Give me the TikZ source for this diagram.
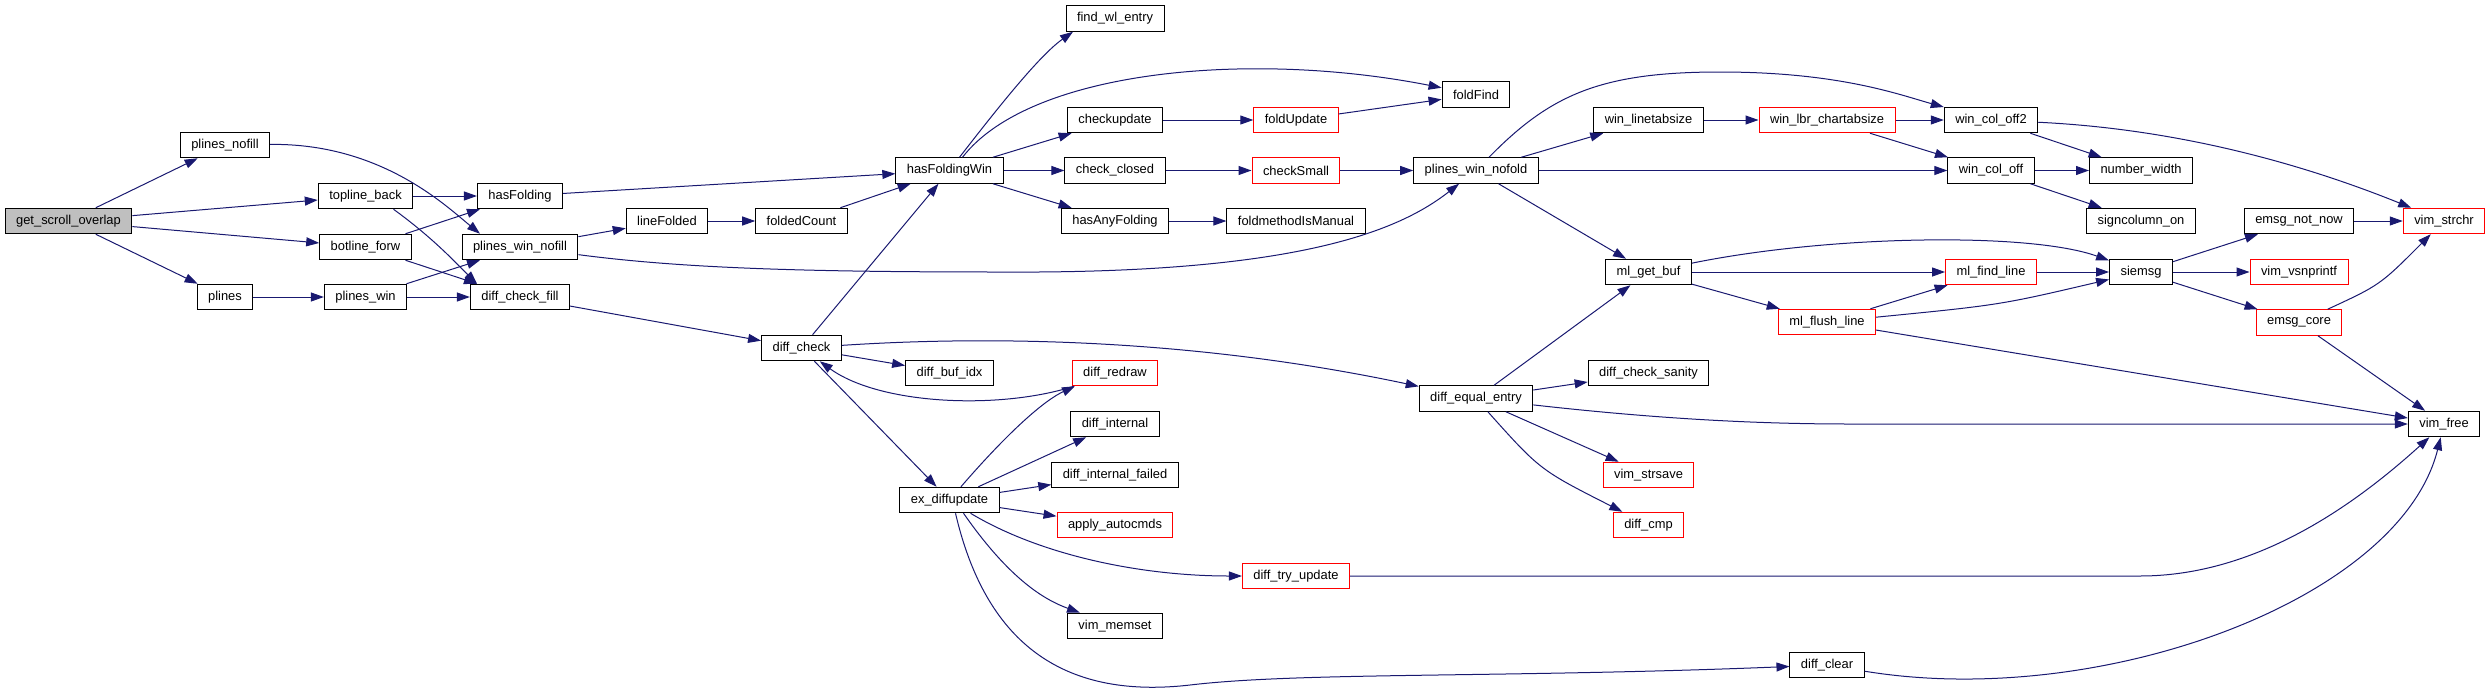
\documentclass[tikz,border=0pt]{standalone}
\usepackage{fontspec}
\setmainfont{Liberation Sans}
\usepackage{xcolor}
\usepackage{tikz}
\usetikzlibrary{arrows.meta}
\definecolor{callblue}{HTML}{191970}
\definecolor{truncred}{HTML}{FF0000}
\definecolor{rootgrey}{HTML}{BFBFBF}

\begin{document}
\begin{tikzpicture}[x=1pt,y=-1pt,
    fn/.style={draw=black, line width=1pt, fill=white, rectangle, minimum height=25.5pt,
      inner xsep=11pt, inner ysep=0pt, font=\fontsize{12.9pt}{15pt}\selectfont},
    trunc/.style={fn, draw=truncred},
    root/.style={fn, fill=rootgrey},
    >={Triangle[length=13pt,width=9pt]},
    call/.style={->, draw=callblue, line width=1pt}]
  \useasboundingbox (0,0) rectangle (2491,691);
  % ---- Nodes, column by column ----
  \node[root] (gso) at (68.5,221) {get\_scroll\_overlap};
  \node[fn] (pnofill) at (225,145) {plines\_nofill};
  \node[fn] (plines) at (225,297) {plines};
  \node[fn] (tback) at (365.5,196) {topline\_back};
  \node[fn] (bforw) at (365.5,247) {botline\_forw};
  \node[fn] (pwin) at (365.5,297) {plines\_win};
  \node[fn] (hfold) at (520,196) {hasFolding};
  \node[fn] (pwnofill) at (520,247) {plines\_win\_nofill};
  \node[fn] (dcfill) at (520,297) {diff\_check\_fill};
  \node[fn] (lfold) at (667,221) {lineFolded};
  \node[fn] (fcount) at (801.5,221) {foldedCount};
  \node[fn] (dcheck) at (801.5,348) {diff\_check};
  \node[fn] (hfwin) at (949.5,170.5) {hasFoldingWin};
  \node[fn] (dbufidx) at (949.5,373) {diff\_buf\_idx};
  \node[fn] (exdiff) at (949.5,500) {ex\_diffupdate};
  \node[fn] (fwl) at (1115,18.5) {find\_wl\_entry};
  \node[fn] (cupd) at (1115,120) {checkupdate};
  \node[fn] (cclosed) at (1115,170.5) {check\_closed};
  \node[fn] (hany) at (1115,221) {hasAnyFolding};
  \node[trunc] (dredraw) at (1115,373) {diff\_redraw};
  \node[fn] (dint) at (1115,424) {diff\_internal};
  \node[fn] (dintf) at (1115,475) {diff\_internal\_failed};
  \node[trunc] (autocmd) at (1115,525) {apply\_autocmds};
  \node[fn] (vmemset) at (1115,626) {vim\_memset};
  \node[trunc] (fupd) at (1296,120) {foldUpdate};
  \node[trunc] (csmall) at (1296,170.5) {checkSmall};
  \node[fn] (fmanual) at (1296,221) {foldmethodIsManual};
  \node[trunc] (dtry) at (1296,576) {diff\_try\_update};
  \node[fn] (ffind) at (1476,94.5) {foldFind};
  \node[fn] (pwnofold) at (1476,170.5) {plines\_win\_nofold};
  \node[fn] (deqe) at (1476,398.5) {diff\_equal\_entry};
  \node[fn] (wlts) at (1648.5,120) {win\_linetabsize};
  \node[fn] (mlgb) at (1648.5,272) {ml\_get\_buf};
  \node[fn] (dsanity) at (1648.5,373) {diff\_check\_sanity};
  \node[trunc] (vstrsave) at (1648.5,475) {vim\_strsave};
  \node[trunc] (dcmp) at (1648.5,525) {diff\_cmp};
  \node[trunc] (wlbr) at (1827,120) {win\_lbr\_chartabsize};
  \node[trunc] (mlflush) at (1827,322) {ml\_flush\_line};
  \node[fn] (dclear) at (1827,665) {diff\_clear};
  \node[fn] (wco2) at (1991,120) {win\_col\_off2};
  \node[fn] (wco) at (1991,170.5) {win\_col\_off};
  \node[trunc] (mlfind) at (1991,272) {ml\_find\_line};
  \node[fn] (nwidth) at (2141,170.5) {number\_width};
  \node[fn] (scol) at (2141,221) {signcolumn\_on};
  \node[fn] (siemsg) at (2141,272) {siemsg};
  \node[fn] (enotnow) at (2299,221) {emsg\_not\_now};
  \node[trunc] (vsnp) at (2299,272) {vim\_vsnprintf};
  \node[trunc] (ecore) at (2299,322.5) {emsg\_core};
  \node[trunc] (vstrchr) at (2444,221) {vim\_strchr};
  \node[fn] (vfree) at (2444,424) {vim\_free};
  % ---- Calls from the left part ----
  \draw[call] (gso) -- (pnofill);
  \draw[call] (gso) -- (tback);
  \draw[call] (gso) -- (bforw);
  \draw[call] (gso) -- (plines);
  \draw[call] (pnofill) .. controls (380,143) and (445,205) .. ([xshift=-40pt]pwnofill.north);
  \draw[call] (tback) -- (hfold);
  \draw[call] ([xshift=28pt]tback.south) .. controls (433,238) and (455,262) .. ([xshift=-43pt]dcfill.north);
  \draw[call] ([xshift=40pt]bforw.north) -- ([xshift=-40pt]hfold.south);
  \draw[call] ([xshift=40pt]bforw.south) -- ([xshift=-43pt]dcfill.north);
  \draw[call] (plines) -- (pwin);
  \draw[call] ([xshift=41pt]pwin.north) -- ([xshift=-40pt]pwnofill.south);
  \draw[call] (pwin) -- (dcfill);
  \draw[call] (hfold) -- (hfwin);
  \draw[call] (pwnofill) -- (lfold);
  \draw[call] (pwnofill) .. controls (680,268) and (800,272) .. (1000,272) .. controls (1300,274) and (1400,230) .. (pwnofold);
  \draw[call] (lfold) -- (fcount);
  \draw[call] (fcount) -- (hfwin);
  \draw[call] (dcfill) -- (dcheck);
  % ---- diff_check and ex_diffupdate ----
  \draw[call] (dcheck) -- (hfwin);
  \draw[call] (dcheck) -- (dbufidx);
  \draw[call] (dcheck) -- (exdiff);
  \draw[call] (dcheck) .. controls (1000,335) and (1200,340) .. (deqe);
  \draw[call] (dredraw) .. controls (1000,410) and (880,405) .. (dcheck);
  \draw[call] (exdiff) .. controls (1010,430) and (1045,400) .. ([xshift=-40pt]dredraw.south);
  \draw[call] (exdiff) -- (dint);
  \draw[call] (exdiff) -- (dintf);
  \draw[call] (exdiff) -- (autocmd);
  \draw[call] ([xshift=21pt]exdiff.south) .. controls (1040,555) and (1140,576) .. (dtry);
  \draw[call] ([xshift=14pt]exdiff.south) .. controls (1010,580) and (1045,600) .. ([xshift=-35pt]vmemset.north);
  \draw[call] ([xshift=6pt]exdiff.south) .. controls (985,640) and (1060,700) .. (1190,685) .. controls (1300,672) and (1500,678) .. (dclear);
  % ---- hasFoldingWin ----
  \draw[call] ([xshift=10pt]hfwin.north) .. controls (1000,105) and (1040,55) .. ([xshift=-42pt]fwl.south);
  \draw[call] ([xshift=13pt]hfwin.north) .. controls (1030,70) and (1250,50) .. (ffind);
  \draw[call] (hfwin) -- (cupd);
  \draw[call] (hfwin) -- (cclosed);
  \draw[call] (hfwin) -- (hany);
  \draw[call] (cupd) -- (fupd);
  \draw[call] (fupd) -- (ffind);
  \draw[call] (cclosed) -- (csmall);
  \draw[call] (csmall) -- (pwnofold);
  \draw[call] (hany) -- (fmanual);
  % ---- plines_win_nofold ----
  \draw[call] (pwnofold) .. controls (1550,95) and (1600,72) .. (1720,72) .. controls (1840,72) and (1900,95) .. (wco2);
  \draw[call] (pwnofold) -- (wlts);
  \draw[call] (pwnofold) -- (wco);
  \draw[call] (pwnofold) -- (mlgb);
  \draw[call] (wlts) -- (wlbr);
  \draw[call] (wlbr) -- (wco2);
  \draw[call] (wlbr) -- (wco);
  \draw[call] (wco2) -- (nwidth);
  \draw[call] (wco2) .. controls (2200,130) and (2330,175) .. (vstrchr);
  \draw[call] (wco) -- (nwidth);
  \draw[call] (wco) -- (scol);
  % ---- diff_equal_entry and the right part ----
  \draw[call] (deqe) -- (mlgb);
  \draw[call] (deqe) -- (dsanity);
  \draw[call] (deqe) -- (vstrsave);
  \draw[call] (deqe) .. controls (1540,470) .. (dcmp);
  \draw[call] (deqe) .. controls (1650,418) and (1750,424) .. (1850,424) -- (vfree);
  \draw[call] (mlgb) .. controls (1830,235) and (2030,232) .. (siemsg);
  \draw[call] (mlgb) -- (mlfind);
  \draw[call] (mlgb) -- (mlflush);
  \draw[call] (mlflush) -- (mlfind);
  \draw[call] (mlflush) .. controls (2000,305) .. (siemsg);
  \draw[call] (mlflush) -- (vfree);
  \draw[call] (mlfind) -- (siemsg);
  \draw[call] (siemsg) -- (enotnow);
  \draw[call] (siemsg) -- (vsnp);
  \draw[call] (siemsg) -- (ecore);
  \draw[call] (enotnow) -- (vstrchr);
  \draw[call] (ecore) .. controls (2380,285) .. (vstrchr);
  \draw[call] (ecore) -- (vfree);
  \draw[call] (dtry) -- (2140,576) .. controls (2260,576) and (2360,500) .. (vfree);
  \draw[call] (dclear) .. controls (2100,710) and (2400,600) .. (vfree);
\end{tikzpicture}
\end{document}
